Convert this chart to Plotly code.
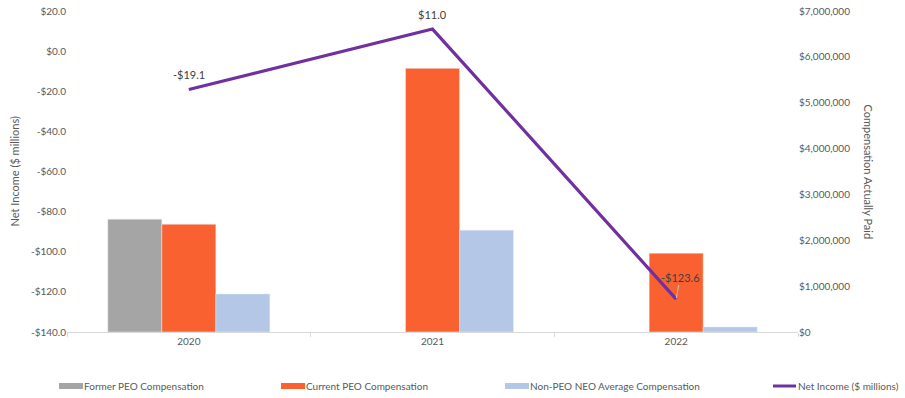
import plotly.graph_objects as go

years = ["2020", "2021", "2022"]
former_peo = [2460000, None, None]
current_peo = [2350000, 5750000, 1720000]
non_peo_neo = [830000, 2220000, 110000]
net_income = [-19.1, 11.0, -123.6]

left_ticks = [-140, -120, -100, -80, -60, -40, -20, 0, 20]
left_ticktext = ["-$140.0", "-$120.0", "-$100.0", "-$80.0", "-$60.0", "-$40.0", "-$20.0", "$0.0", "$20.0"]
right_ticks = [0, 1000000, 2000000, 3000000, 4000000, 5000000, 6000000, 7000000]

series_names = ["Former PEO Compensation", "Current PEO Compensation",
                "Non-PEO NEO Average Compensation", "Net Income ($ millions)"]
series_colors = ["#A5A5A5", "#FA6130", "#B4C7E7", "#7030A0"]

FONT = "Lato"
TXT = "#595959"
W, H = 905, 398
PL, PT, PR, PB = 67, 11, 107, 66
PW, PH = W - PL - PR, H - PT - PB

def px_x(px):
    return (px - PL) / PW

def px_y(py):
    return (H - PB - py) / PH

def money(v):
    return f"-${abs(v):.1f}" if v < 0 else f"${v:.1f}"

fig = go.Figure()
for name, vals, col in zip(series_names[:3], [former_peo, current_peo, non_peo_neo], series_colors[:3]):
    fig.add_trace(go.Bar(x=years, y=vals, name=name, marker_color=col, yaxis="y", showlegend=False))
fig.add_trace(go.Scatter(x=years, y=net_income, name=series_names[3], mode="lines",
                         line=dict(color=series_colors[3], width=3.2), yaxis="y2", showlegend=False))

annotations = []
offsets = [(0, -15, False), (0, -15, False), (4, -22, True)]
for i, (v, (ax, ay, arrow)) in enumerate(zip(net_income, offsets)):
    if arrow:
        annotations.append(dict(x=i, y=v, xref="x", yref="y2", text=money(v), showarrow=True,
                                arrowhead=0, arrowwidth=1, arrowcolor="#C9C9C9", ax=ax, ay=ay,
                                font=dict(family=FONT, size=11, color="#404040"), standoff=1))
    else:
        annotations.append(dict(x=i, y=v, xref="x", yref="y2", text=money(v), showarrow=False,
                                yshift=15, font=dict(family=FONT, size=11, color="#404040")))

annotations.append(dict(text="Net Income ($ millions)", xref="paper", yref="paper",
                        x=px_x(14), y=0.5, xanchor="center", yanchor="middle", showarrow=False,
                        textangle=-90, font=dict(family=FONT, size=11, color=TXT)))
annotations.append(dict(text="Compensation Actually Paid", xref="paper", yref="paper",
                        x=px_x(868), y=0.5, xanchor="center", yanchor="middle", showarrow=False,
                        textangle=90, font=dict(family=FONT, size=11, color=TXT)))

# manual legend (Excel-style swatches)
legend_swatch_x = [59, 281, 505, 773]
legend_y = 386
shapes = []
for k, (name, col, sx) in enumerate(zip(series_names, series_colors, legend_swatch_x)):
    if k < 3:
        shapes.append(dict(type="rect", xref="paper", yref="paper",
                           x0=px_x(sx), x1=px_x(sx + 24), y0=px_y(legend_y + 3), y1=px_y(legend_y - 3),
                           fillcolor=col, line=dict(width=0)))
    else:
        shapes.append(dict(type="line", xref="paper", yref="paper",
                           x0=px_x(sx), x1=px_x(sx + 23), y0=px_y(legend_y), y1=px_y(legend_y),
                           line=dict(color=col, width=3)))
    annotations.append(dict(text=name, xref="paper", yref="paper", x=px_x(sx + 24), y=px_y(legend_y),
                            xanchor="left", yanchor="middle", showarrow=False, xshift=-1,
                            font=dict(family=FONT, size=10, color=TXT)))

fig.update_layout(
    width=W, height=H,
    margin=dict(l=PL, r=PR, t=PT, b=PB, autoexpand=False),
    paper_bgcolor="white", plot_bgcolor="white",
    barmode="group", bargap=0.335, bargroupgap=0,
    font=dict(family=FONT, size=10, color=TXT),
    showlegend=False,
    xaxis=dict(type="category", range=[-0.5, len(years) - 0.5], showgrid=False, showline=True,
               linecolor="#D9D9D9", linewidth=1, automargin=False,
               ticks="outside", tickson="boundaries", ticklen=4, tickcolor="#D9D9D9",
               tickfont=dict(family=FONT, size=10, color=TXT)),
    yaxis=dict(side="right", range=[0, 7000000], tickvals=right_ticks, tickformat="$,.0f",
               showgrid=False, zeroline=False, showline=False, ticks="", automargin=False,
               tickfont=dict(family=FONT, size=10, color=TXT)),
    yaxis2=dict(side="left", overlaying="y", range=[-140, 20], tickvals=left_ticks,
                ticktext=left_ticktext, showgrid=False, zeroline=False, showline=False, ticks="",
                automargin=False, tickfont=dict(family=FONT, size=10, color=TXT)),
    annotations=annotations,
    shapes=shapes,
)

fig.write_html("out.html", config={"displayModeBar": False},
               post_script="document.body.style.margin='0';document.body.style.padding='0';")
